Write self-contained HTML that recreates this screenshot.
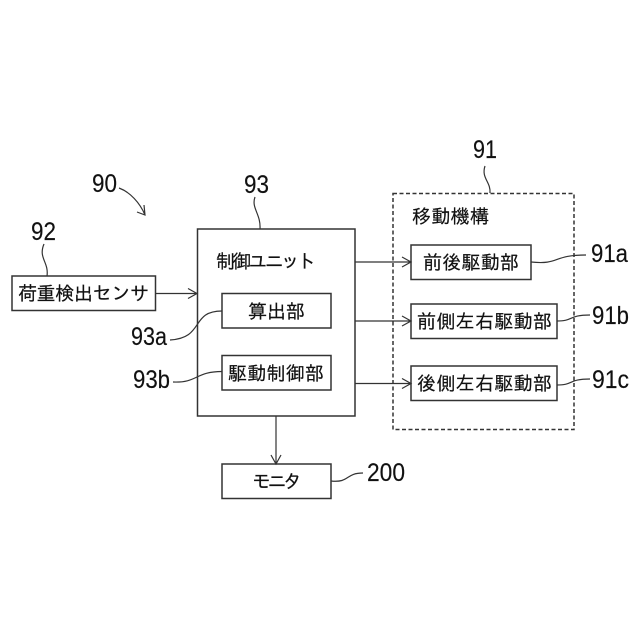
<!DOCTYPE html>
<html><head><meta charset="utf-8"><style>
html,body{margin:0;padding:0;background:#fff}
svg{display:block}
.j{font-family:"Liberation Sans","IPAGothic","Noto Sans CJK JP",sans-serif;font-size:19px;fill:#111;stroke:#111;stroke-width:.2}
.n{font-family:"Liberation Sans",sans-serif;font-size:25px;fill:#111;stroke:#111;stroke-width:.15}
.b{fill:none;stroke:#333;stroke-width:1.5}
.l{fill:none;stroke:#333;stroke-width:1.2}
</style></head><body>
<svg width="640" height="640" viewBox="0 0 640 640" xmlns="http://www.w3.org/2000/svg">
<rect width="640" height="640" fill="#fff"/>
<rect class="b" x="12" y="276" width="143.500" height="34.500"/>
<rect class="b" x="197.500" y="229" width="157.500" height="187"/>
<rect class="b" x="222" y="293.500" width="109" height="34.500"/>
<rect class="b" x="222" y="355.500" width="109" height="34.500"/>
<rect class="b" x="222" y="464" width="109" height="34.500"/>
<rect class="b" x="393" y="193.500" width="181" height="236" stroke-dasharray="4 2.500"/>
<rect class="b" x="411" y="245" width="120" height="34.500"/>
<rect class="b" x="411" y="304" width="146" height="34.500"/>
<rect class="b" x="411" y="366" width="146" height="34.500"/>

<path class="l" d="M155.500 293.500H197M188 288.500L197 293.500L188 298.500"/>
<path class="l" d="M355 262H411M402 257L411 262L402 267"/>
<path class="l" d="M355 321H411M402 316L411 321L402 326"/>
<path class="l" d="M355 383.500H411M402 378.500L411 383.500L402 388.500"/>
<path class="l" d="M276 416V464M271 455L276 464L281 455"/>

<path class="l" d="M119 188C130 192 140 203 145 215M137 212L145 215L144 205"/>
<path class="l" d="M255 197C251 208 261 214 260 229"/>
<path class="l" d="M44 244C38 258 49 262 47 276"/>
<path class="l" d="M485 166C481 178 491 182 490 193"/>
<path class="l" d="M222 311C190 311 205 338 170 340"/>
<path class="l" d="M222 371.500C195 371.500 198 383 173 382"/>
<path class="l" d="M531 262C560 265 552 255 586 255"/>
<path class="l" d="M557 321C574 321 568 315 590 315"/>
<path class="l" d="M557 385C574 385 568 379 590 379"/>
<path class="l" d="M331 481C350 483 345 473 363 473"/>

<text class="j" x="18" y="300" textLength="131" lengthAdjust="spacing">荷重検出センサ</text>
<text class="j" x="216" y="268" textLength="100" lengthAdjust="spacing">制御ユニット</text>
<text class="j" x="248" y="318" textLength="57" lengthAdjust="spacing">算出部</text>
<text class="j" x="228" y="380" textLength="96" lengthAdjust="spacing">駆動制御部</text>
<text class="j" x="252" y="488" textLength="50" lengthAdjust="spacing">モニタ</text>
<text class="j" x="412" y="223" textLength="77" lengthAdjust="spacing">移動機構</text>
<text class="j" x="423" y="269" textLength="96" lengthAdjust="spacing">前後駆動部</text>
<text class="j" x="417" y="328" textLength="135" lengthAdjust="spacing">前側左右駆動部</text>
<text class="j" x="417" y="390" textLength="135" lengthAdjust="spacing">後側左右駆動部</text>

<text class="n" x="92" y="192" textLength="25" lengthAdjust="spacingAndGlyphs">90</text>
<text class="n" x="244" y="193" textLength="25" lengthAdjust="spacingAndGlyphs">93</text>
<text class="n" x="31" y="240" textLength="25" lengthAdjust="spacingAndGlyphs">92</text>
<text class="n" x="473" y="158" textLength="24" lengthAdjust="spacingAndGlyphs">91</text>
<text class="n" x="131" y="345" textLength="36" lengthAdjust="spacingAndGlyphs">93a</text>
<text class="n" x="133" y="388" textLength="37" lengthAdjust="spacingAndGlyphs">93b</text>
<text class="n" x="591" y="262" textLength="37" lengthAdjust="spacingAndGlyphs">91a</text>
<text class="n" x="592" y="324" textLength="37" lengthAdjust="spacingAndGlyphs">91b</text>
<text class="n" x="592" y="388" textLength="37" lengthAdjust="spacingAndGlyphs">91c</text>
<text class="n" x="367" y="481" textLength="38" lengthAdjust="spacingAndGlyphs">200</text>
</svg>
</body></html>
